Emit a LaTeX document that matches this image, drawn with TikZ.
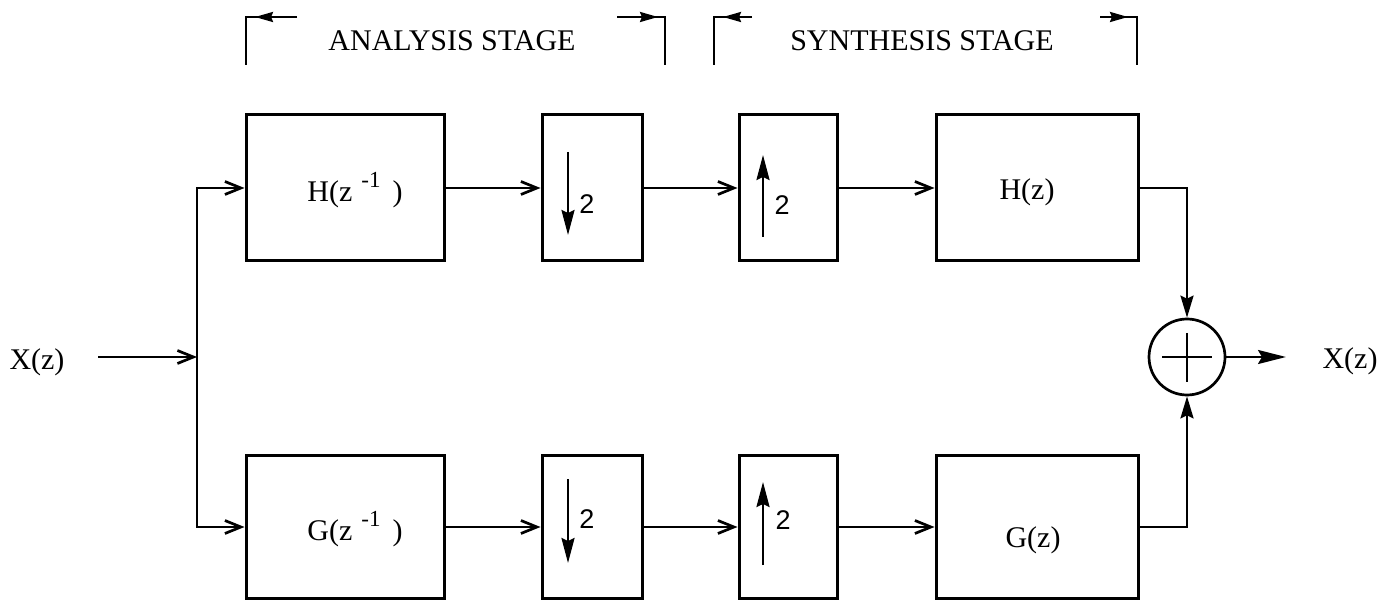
\documentclass[tikz,border=0pt]{standalone}
\usepackage{fontspec}
\setmainfont{Liberation Serif}
\newfontfamily\digitfont{Liberation Sans}
\usetikzlibrary{arrows.meta}
\tikzset{
  blk/.style={draw, line width=3pt, inner sep=0pt},
  txt/.style={inner sep=0pt, font=\fontsize{30}{34}\selectfont},
  two/.style={inner sep=0pt, font=\digitfont\fontsize{27}{27}\selectfont},
  con/.style={line width=2.7pt, -{Straight Barb[length=16pt,width=13pt]}},
  sumin/.style={line width=2.4pt, -{Stealth[length=22pt,width=13pt,inset=3pt]}},
  outarr/.style={line width=2.3pt, -{Stealth[length=28pt,width=14pt,inset=4pt]}},
  inarr/.style={line width=2.4pt, -{Stealth[length=25pt,width=13pt,inset=3pt]}},
  brk/.style={line width=2.4pt},
  brtip/.style={line width=2.4pt, -{Stealth[length=18pt,width=10pt,inset=2pt]}}
}
\begin{document}
\begin{tikzpicture}[x=1pt,y=-1pt]
\useasboundingbox (0,0) rectangle (1394,601);

% header brackets
\node[txt, anchor=base] (ta) at (452,51) {ANALYSIS STAGE};
\node[txt, anchor=base] (ts) at (922,51) {SYNTHESIS STAGE};
\draw[brk] (246,65) |- (297,17);
\draw[brtip] (297,17) -- (255,17);
\draw[brk] (617,17) -| (665,65);
\draw[brtip] (617,17) -- (658,17);
\draw[brk] (714,65) |- (752,17);
\draw[brtip] (752,17) -- (723,17);
\draw[brk] (1100,17) -| (1137,65);
\draw[brtip] (1100,17) -- (1128,17);

% blocks
\node[blk, minimum width=198pt, minimum height=146pt] (h1) at (345,188) {};
\node[blk, minimum width=100pt, minimum height=146pt] (d1) at (592,188) {};
\node[blk, minimum width=98pt,  minimum height=146pt] (u1) at (788,188) {};
\node[blk, minimum width=202pt, minimum height=146pt] (h2) at (1037,188) {};
\node[blk, minimum width=198pt, minimum height=143pt] (g1) at (345,527) {};
\node[blk, minimum width=100pt, minimum height=143pt] (d2) at (592,527) {};
\node[blk, minimum width=98pt,  minimum height=143pt] (u2) at (788,527) {};
\node[blk, minimum width=202pt, minimum height=143pt] (g2) at (1037,527) {};
\node[circle, draw, line width=2.7pt, minimum size=76pt, inner sep=0pt] (sum) at (1187,357) {};

% labels
\node[txt, anchor=base] (lh1) at ([shift={(10,14)}]h1.center) {H(z\hspace{9pt}\raisebox{14pt}{\fontsize{23}{23}\selectfont -1}\hspace{12pt})};
\node[txt, anchor=base] (lg1) at ([shift={(10,13)}]g1.center) {G(z\hspace{9pt}\raisebox{14pt}{\fontsize{23}{23}\selectfont -1}\hspace{12pt})};
\node[txt, anchor=base] (lh2) at ([shift={(-10,12)}]h2.center) {H(z)};
\node[txt, anchor=base] (lg2) at ([shift={(-4,20)}]g2.center) {G(z)};
\node[txt, anchor=base] (xl) at (37,369) {X(z)};
\node[txt, anchor=base] (xr) at (1350,368) {X(z)};

% sampler arrows and factors
\draw[inarr] ([shift={(-24,-36)}]d1.center) -- ([shift={(-24,47)}]d1.center);
\node[two] (n1) at ([shift={(-5,16)}]d1.center) {2};
\draw[inarr] ([shift={(-25,49)}]u1.center) -- ([shift={(-25,-33)}]u1.center);
\node[two] (n2) at ([shift={(-6,17)}]u1.center) {2};
\draw[inarr] ([shift={(-24,-48)}]d2.center) -- ([shift={(-24,36)}]d2.center);
\node[two] (n3) at ([shift={(-5,-8)}]d2.center) {2};
\draw[inarr] ([shift={(-25,38)}]u2.center) -- ([shift={(-25,-45)}]u2.center);
\node[two] (n4) at ([shift={(-5,-7)}]u2.center) {2};

% plus sign
\draw[line width=2.7pt] ([xshift=-25pt]sum.center) -- ([xshift=25pt]sum.center);
\draw[line width=2.7pt] ([yshift=24pt]sum.center) -- ([yshift=-25pt]sum.center);

% connectors
\coordinate (xin) at (98,357);
\coordinate (split) at (197,357);
\coordinate (xout) at (1286,357);
\draw[con] (xin) -- (split);
\draw[con] (split) |- (h1.west);
\draw[con] (split) |- (g1.west);
\draw[con] (h1.east) -- (d1.west);
\draw[con] (d1.east) -- (u1.west);
\draw[con] (u1.east) -- (h2.west);
\draw[con] (g1.east) -- (d2.west);
\draw[con] (d2.east) -- (u2.west);
\draw[con] (u2.east) -- (g2.west);
\draw[sumin] (h2.east) -| (sum.north);
\draw[sumin] (g2.east) -| (sum.south);
\draw[outarr] (sum.east) -- (xout);
\end{tikzpicture}
\end{document}
